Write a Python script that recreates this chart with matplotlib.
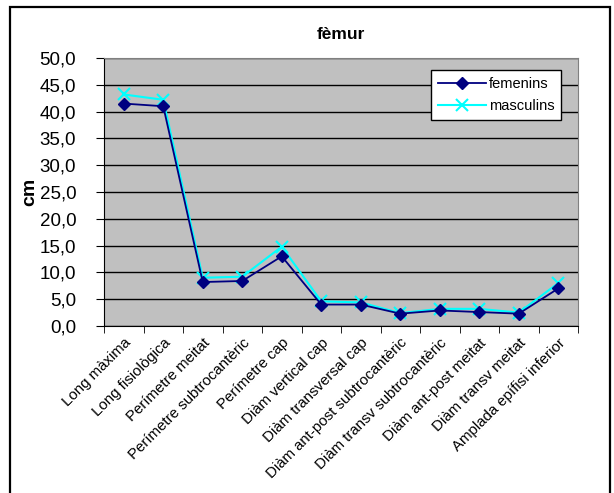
import matplotlib
matplotlib.use('Agg')
import matplotlib.pyplot as plt
from matplotlib.patches import Rectangle
import numpy as np

plt.rcParams['font.family'] = ['Liberation Sans', 'DejaVu Sans']

# data
categories = ['Long màxima', 'Long fisiològica', 'Perímetre meitat',
              'Perímetre subtrocantèric', 'Perímetre cap', 'Diàm vertical cap',
              'Diàm transversal cap', 'Diàm ant-post subtrocantèric',
              'Diàm transv subtrocantèric', 'Diàm ant-post meitat',
              'Diàm transv meitat', 'Amplada epífisi inferior']
femenins = [41.5, 41.0, 8.2, 8.4, 13.0, 4.0, 4.0, 2.3, 2.9, 2.6, 2.3, 7.0]
masculins = [43.2, 42.2, 9.0, 9.2, 14.8, 4.6, 4.4, 2.4, 3.2, 3.2, 2.5, 8.0]
yticks = [0, 5, 10, 15, 20, 25, 30, 35, 40, 45, 50]

fig = plt.figure(figsize=(6.14, 4.93), dpi=100)
# outer chart frame
fig.patches.append(Rectangle((10/614, -0.05), 600/614, 1.05 - 7/493,
                             transform=fig.transFigure, fill=False,
                             edgecolor='black', linewidth=1.6))

ax = fig.add_axes([104/614, 1 - 326/493, 474/614, 268/493])
ax.set_facecolor('#c0c0c0')

x = np.arange(len(categories))
ax.plot(x, femenins, color='#000080', marker='D', markersize=6, linewidth=1.3,
        label='femenins', zorder=4)
ax.plot(x, masculins, color='#00ffff', marker='x', markersize=8, markeredgewidth=1.5,
        linewidth=1.5, label='masculins', zorder=3)

ax.set_xlim(-0.5, len(categories) - 0.5)
ax.set_ylim(0, 50)
ax.set_yticks(yticks)
ax.set_yticklabels([f'{v:.1f}'.replace('.', ',') for v in yticks], fontsize=13.5)
ax.yaxis.grid(True, color='black', linewidth=1)
ax.set_axisbelow(True)

ax.set_xticks(x)
ax.set_xticklabels(categories, rotation=45, ha='right', rotation_mode='anchor',
                   fontsize=10.8)
ax.tick_params(axis='x', which='major', length=0, pad=7)
ax.set_xticks(np.arange(-0.5, len(categories)), minor=True)
ax.tick_params(axis='x', which='minor', length=5, direction='out')
ax.tick_params(axis='y', length=6, direction='out', pad=14)

for side in ['top', 'right']:
    ax.spines[side].set_color('#808080')
for side in ['left', 'bottom']:
    ax.spines[side].set_color('black')

ax.set_ylabel('cm', fontsize=14, fontweight='bold', labelpad=1)
ax.set_title('fèmur', fontsize=12.5, fontweight='bold', pad=14)

leg = ax.legend(loc='upper left', bbox_to_anchor=(0.69, 0.955), fontsize=10.5,
                frameon=True, fancybox=False, framealpha=1, edgecolor='black',
                borderpad=0.45, labelspacing=0.6, handlelength=3.3, handletextpad=0.2,
                borderaxespad=0)
leg.get_frame().set_linewidth(1)

fig.savefig('out.png', dpi=100)
